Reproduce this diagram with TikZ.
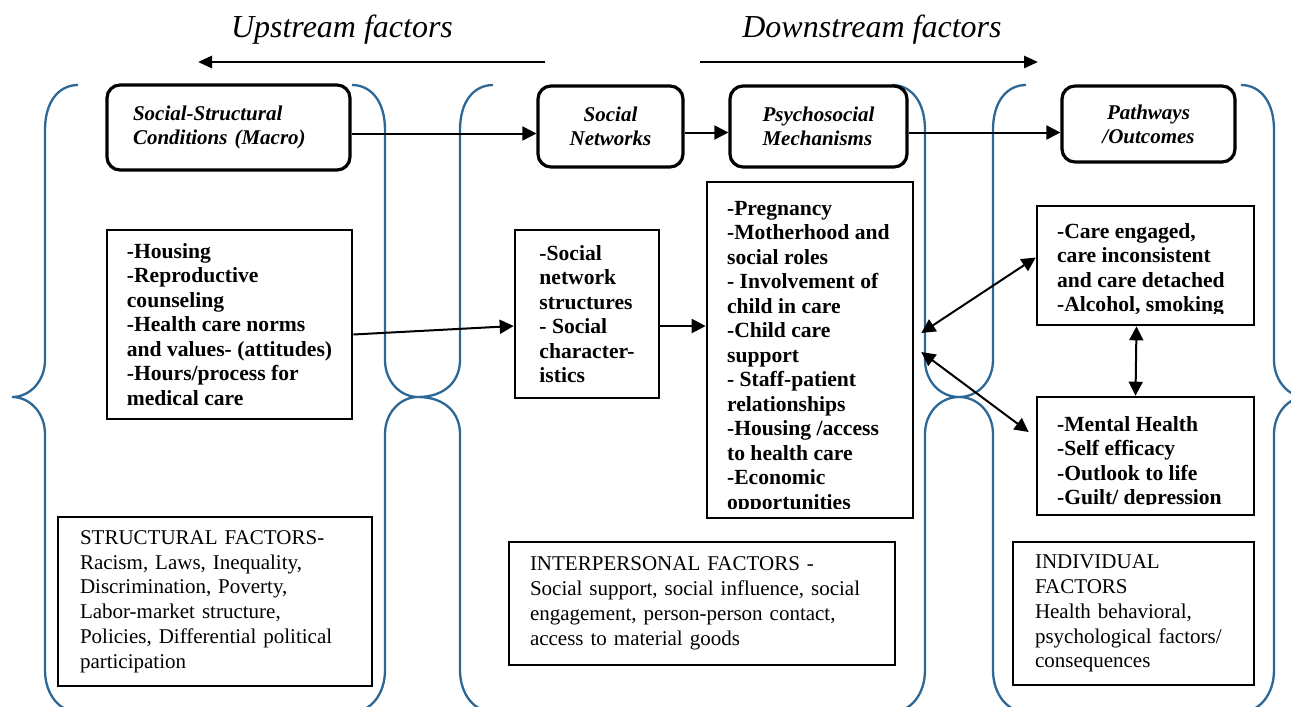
\documentclass[tikz,border=0pt]{standalone}
\usepackage{fontspec}
\setmainfont{Liberation Serif}
\usetikzlibrary{arrows.meta,positioning}
\definecolor{braceblue}{RGB}{44,103,149}

\tikzset{
  headbox/.style={draw, line width=1.6pt, rounded corners=6.5pt, fill=white, align=left,
    font=\fontsize{10.5}{12}\selectfont\bfseries\itshape},
  listbox/.style={draw, line width=1.3pt, fill=white, align=left,
    font=\fontsize{10.8}{12.25}\selectfont\bfseries},
  listtext/.style={inner sep=0pt, align=left, anchor=north west,
    font=\fontsize{10.8}{12.25}\selectfont\bfseries},
  factbox/.style={draw, line width=1.2pt, fill=white, align=left,
    font=\fontsize{10.5}{12.4}\selectfont},
  brc/.style={draw=braceblue, line width=1.15pt},
  arr/.style={-{Triangle[length=7pt,width=7pt]}, line width=1pt},
  dblarr/.style={{Triangle[length=7pt,width=7pt]}-{Triangle[length=7pt,width=7pt]}, line width=1pt},
  toparr/.style={-{Triangle[length=7pt,width=6pt]}, line width=1.4pt},
  flow/.style={font=\fontsize{16}{19}\selectfont\itshape}
}

\begin{document}
\begin{tikzpicture}[x=0.5pt,y=-0.5pt]
\useasboundingbox (0,0) rectangle (1291,707);
\clip (0,0) rectangle (1291,707);

% the three groups (curly braces)
\foreach \X/\T in {45/12, 460/418, 993/959}
  \draw[brc] (\X+33,85) .. controls (\X+15,85) and (\X,100) .. (\X,130)
    -- (\X,360) .. controls (\X,381) and (\X-15,397) .. (\T,397)
    .. controls (\X-15,397) and (\X,413) .. (\X,434)
    -- (\X,670) .. controls (\X,695) and (\X+15,712) .. (\X+33,712);
\foreach \X/\T in {385/418, 925/959, 1274/1305}
  \draw[brc] (\X-33,85) .. controls (\X-15,85) and (\X,100) .. (\X,130)
    -- (\X,360) .. controls (\X,381) and (\X+15,397) .. (\T,397)
    .. controls (\X+15,397) and (\X,413) .. (\X,434)
    -- (\X,670) .. controls (\X,695) and (\X-15,712) .. (\X-33,712);

% up / down stream
\node[flow] (up) at (342,30) {Upstream factors};
\node[flow] (down) at (872,30) {Downstream factors};
\coordinate (upA) at (545,62);
\coordinate (upB) at (198,62);
\coordinate (dnA) at (700,62);
\coordinate (dnB) at (1038,62);
\draw[toparr] (upA) -- (upB);
\draw[toparr] (dnA) -- (dnB);

% headings
\node[headbox, minimum width=121.5pt, minimum height=42.5pt, text width=95.5pt, inner xsep=13pt]
  (ssc) at (228.5,127.5) {Social-Structural\\Conditions (Macro)};
\node[headbox, align=center, minimum width=72.5pt, minimum height=40.5pt]
  (socnet) at (610.5,126.5) {Social\\Networks};
\node[headbox, minimum width=88.5pt, minimum height=40.5pt]
  (psyc) at (818.5,126.5) {Psychosocial\\Mechanisms};
\node[headbox, align=center, minimum width=86.5pt, minimum height=38pt]
  (path) at (1148.5,124) {Pathways\\/Outcomes};

% lists
\node[listbox, minimum width=122.5pt, minimum height=94.5pt] (housing) at (229.5,324.5)
  {-Housing\\-Reproductive\\counseling\\-Health care norms\\and values- (attitudes)\\-Hours/process for\\medical care};
\node[listbox, minimum width=72pt, minimum height=84pt] (netlist) at (587,314)
  {-Social\\network\\structures\\- Social\\character-\\istics};
\node[listbox, minimum width=103pt, minimum height=168pt] (mech) at (810,350) {};
\begin{scope}
  \clip (mech.north west) rectangle ([yshift=5.5pt]mech.south east);
  \node[listtext] (mechtxt) at ([shift={(10.5pt,-10pt)}]mech.north west)
    {-Pregnancy\\-Motherhood and\\social roles\\- Involvement of\\child in care\\-Child care\\support\\- Staff-patient\\relationships\\-Housing /access\\to health care\\-Economic\\opportunities};
\end{scope}
\node[listbox, minimum width=108.5pt, minimum height=59.5pt] (care) at (1145.5,265.5) {};
\begin{scope}
  \clip (care.north west) rectangle ([yshift=6.5pt]care.south east);
  \node[listtext] (caretxt) at ([shift={(10.5pt,-9pt)}]care.north west)
    {-Care engaged,\\care inconsistent\\and care detached\\-Alcohol, smoking};
\end{scope}
\node[listbox, minimum width=108.5pt, minimum height=59pt] (mental) at (1145.5,456) {};
\begin{scope}
  \clip (mental.north west) rectangle ([yshift=6pt]mental.south east);
  \node[listtext] (mentaltxt) at ([shift={(10.5pt,-10pt)}]mental.north west)
    {-Mental Health\\-Self efficacy\\-Outlook to life\\-Guilt/ depression};
\end{scope}

% factors
\node[factbox, text width=135pt, inner xsep=11pt, minimum height=84.5pt] (struct) at (215,601.5)
  {STRUCTURAL FACTORS-\\Racism, Laws, Inequality,\\Discrimination, Poverty,\\Labor-market structure,\\Policies, Differential political\\participation};
\node[factbox, text width=172pt, inner xsep=10.5pt, minimum height=61.5pt] (interp) at (702,603.5)
  {INTERPERSONAL FACTORS -\\Social support, social influence, social\\engagement, person-person contact,\\access to material goods};
\node[factbox, text width=98.5pt, inner xsep=11pt, minimum height=71.5pt] (indiv) at (1133.5,613.5)
  {INDIVIDUAL\\FACTORS\\Health behavioral,\\psychological factors/\\consequences};

% arrows
\draw[arr] ([yshift=-3pt]ssc.east) coordinate (a1) -- (a1 -| socnet.west);
\draw[arr] ([yshift=-3pt]socnet.east) coordinate (a2) -- (a2 -| psyc.west);
\draw[arr] ([yshift=-3pt]psyc.east) coordinate (a3) -- (a3 -| path.west);
\draw[arr] ([yshift=-5pt]housing.east) -- ([yshift=-6pt]netlist.west);
\draw[arr] ([yshift=-6pt]netlist.east) coordinate (a4) -- (a4 -| mech.west);
\draw[dblarr] ([shift={(3.5pt,8.5pt)}]mech.east) -- ([yshift=4pt]care.west);
\draw[dblarr] ([shift={(3.5pt,-1pt)}]mech.east) -- ([shift={(-3.5pt,12pt)}]mental.west);
\draw[dblarr] ([xshift=-4.5pt]care.south) -- ([xshift=-5pt]mental.north);
\end{tikzpicture}
\end{document}
